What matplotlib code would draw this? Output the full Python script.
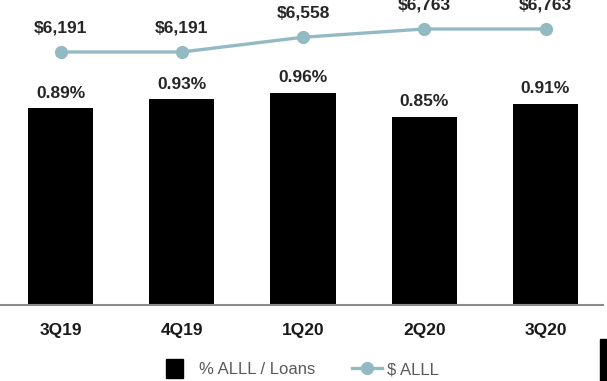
import matplotlib
matplotlib.use("Agg")
import matplotlib.pyplot as plt
import matplotlib.patches as patches
from matplotlib.lines import Line2D

plt.rcParams['font.family'] = ['Liberation Sans', 'DejaVu Sans']

quarters = ['3Q19', '4Q19', '1Q20', '2Q20', '3Q20']
alll_pct = [0.89, 0.93, 0.96, 0.85, 0.91]      # % ALLL / Loans
alll_usd = [6191, 6191, 6558, 6763, 6763]      # $ ALLL (thousands)

line_color = '#93bac2'
W, H = 607, 381

fig = plt.figure(figsize=(W / 100, H / 100), dpi=100)
ax = fig.add_axes([0, (H - 305) / H, 603 / W, 305 / H])

x = list(range(len(quarters)))
bars = ax.bar(x, alll_pct, width=0.54, color='black')
ax.set_xlim(-0.499, 4.474)
ax.set_ylim(0, 1.378)

for xi, v in zip(x, alll_pct):
    ax.annotate(f'{v:.2f}%', (xi, v), xytext=(0, 10.8), textcoords='offset points',
                ha='center', va='center', fontsize=12.5, fontweight='bold',
                color='#262626')

ax.set_xticks(x)
ax.set_xticklabels(quarters, fontsize=12.5, fontweight='bold', color='#1a1a1a')
ax.tick_params(axis='x', length=0, pad=13)
ax.set_yticks([])
for s in ['top', 'left', 'right']:
    ax.spines[s].set_visible(False)
ax.spines['bottom'].set_color('#8c8c8c')
ax.spines['bottom'].set_linewidth(1.5)

# dollar ALLL on its own scale
ax2 = ax.twinx()
ax2.plot(x, alll_usd, color=line_color, lw=2.4, marker='o', markersize=8.5)
ax2.set_ylim(-103, 7484)
ax2.set_yticks([])
for s in ax2.spines.values():
    s.set_visible(False)

for xi, v in zip(x, alll_usd):
    ax2.annotate(f'${v:,}', (xi, v), xytext=(0, 17.3), textcoords='offset points',
                 ha='center', va='center', fontsize=12.5, fontweight='bold',
                 color='#262626', annotation_clip=False)

# legend drawn by hand in figure pixels
def fx(px):
    return px / W

def fy(py):
    return 1 - py / H

fig.add_artist(patches.Rectangle((fx(166), fy(378)), 17 / W, 19 / H,
                                 transform=fig.transFigure, color='black'))
fig.text(fx(199), fy(370), '% ALLL / Loans', fontsize=12, color='#595959',
         ha='left', va='center')
fig.add_artist(Line2D([fx(352), fx(382)], [fy(368), fy(368)], transform=fig.transFigure,
                      color=line_color, lw=2.4))
fig.add_artist(Line2D([fx(367)], [fy(368)], transform=fig.transFigure,
                      color=line_color, marker='o', markersize=8.5))
fig.text(fx(387), fy(370), '$ ALLL', fontsize=12, color='#595959',
         ha='left', va='center')

# edge of the neighbouring block at lower right
fig.add_artist(patches.Rectangle((fx(600), 0), 8 / W, 42 / H,
                                 transform=fig.transFigure, color='black'))

fig.savefig('out.png', dpi=100)
